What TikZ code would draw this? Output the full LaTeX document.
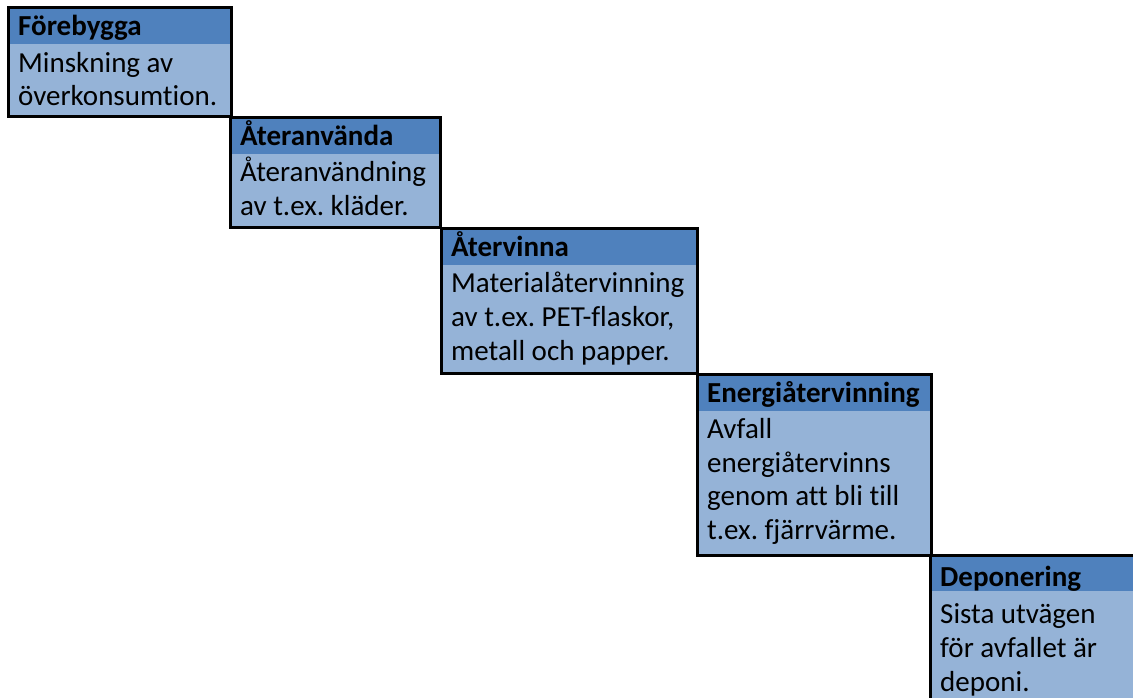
\documentclass[tikz,border=0pt]{standalone}
\usepackage{fontspec}
\setmainfont{Carlito}[Ligatures={NoCommon,TeX}]
\frenchspacing
\definecolor{hdrblue}{HTML}{4F81BD}
\definecolor{bdyblue}{HTML}{95B3D7}
\tikzset{
  hdrtext/.style={anchor=base west, inner sep=0pt, font=\fontsize{29}{34}\selectfont\bfseries},
  bdytext/.style={anchor=base west, inner sep=0pt, font=\fontsize{29}{34}\selectfont},
  boxframe/.style={draw=black, line width=3pt},
}
\newcommand{\stairbox}[5]{% L T R B headerheight
  \fill[hdrblue] (#1,#2) rectangle (#3,#2+#5);
  \fill[bdyblue] (#1,#2+#5) rectangle (#3,#4);
  \draw[boxframe] (#1,#2) rectangle (#3,#4);
}
\begin{document}
\begin{tikzpicture}[x=1pt,y=-1pt]
\useasboundingbox (0,0) rectangle (1133,698);
\clip (0,0) rectangle (1133,698);
\fill[white] (0,0) rectangle (1133,698);

% Box 1
\stairbox{8.5}{7.5}{231.5}{116.5}{36.5}
\node[hdrtext] (h1) at (18,35.5) {Förebygga};
\node[bdytext] (b1a) at (18,73) {Minskning av};
\node[bdytext] (b1b) at (18,106) {överkonsumtion.};

% Box 2
\stairbox{230.5}{117.5}{440.5}{227.5}{37}
\node[hdrtext] (h2) at (240,145.5) {Återanvända};
\node[bdytext] (b2a) at (240,182) {Återanvändning};
\node[bdytext] (b2b) at (240,215.5) {av t.ex. kläder.};

% Box 3
\stairbox{441.5}{228.5}{697.5}{373.5}{36}
\node[hdrtext] (h3) at (451,256.5) {Återvinna};
\node[bdytext] (b3a) at (451,292.5) {Materialåtervinning};
\node[bdytext] (b3b) at (451,326.5) {av t.ex. PET-flaskor,};
\node[bdytext] (b3c) at (451,360.5) {metall och papper.};

% Box 4
\stairbox{697.5}{374.5}{931.5}{555.5}{36.5}
\node[hdrtext] (h4) at (707,402.5) {Energiåtervinning};
\node[bdytext] (b4a) at (707,438.5) {Avfall};
\node[bdytext] (b4b) at (707,472) {energiåtervinns};
\node[bdytext] (b4c) at (707,505.5) {genom att bli till};
\node[bdytext] (b4d) at (707,539) {t.ex. fjärrvärme.};

% Box 5
\stairbox{930.5}{555.5}{1145}{712}{35.5}
\node[hdrtext] (h5) at (940,586) {Deponering};
\node[bdytext] (b5a) at (940,623) {Sista utvägen};
\node[bdytext] (b5b) at (940,657) {för avfallet är};
\node[bdytext] (b5c) at (940,691) {deponi.};
\end{tikzpicture}
\end{document}
